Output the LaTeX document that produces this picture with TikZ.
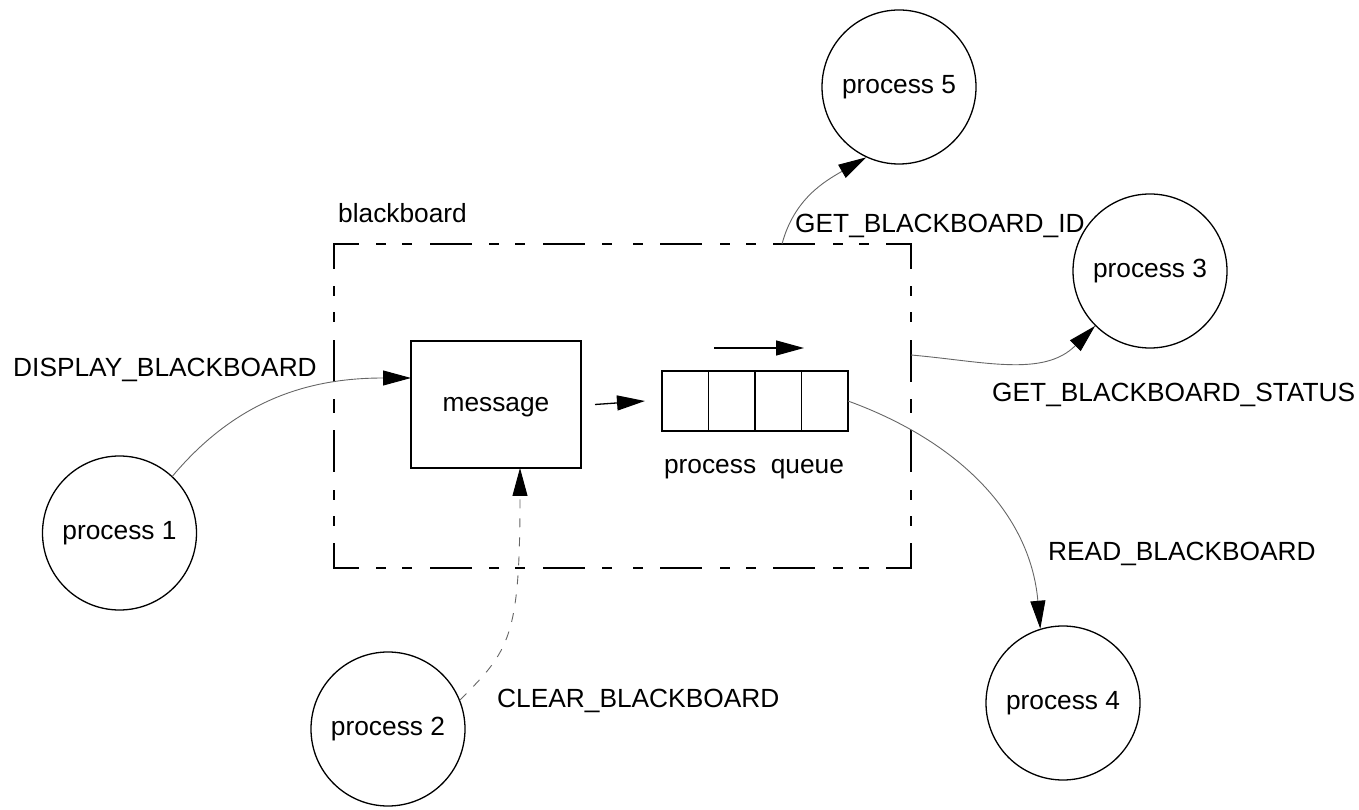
\documentclass[tikz,border=0pt]{standalone}
\usepackage{fontspec}
\setmainfont{Liberation Sans}
\usetikzlibrary{arrows.meta}
\begin{document}
\begin{tikzpicture}[x=1pt,y=1pt,
  every node/.style={font=\fontsize{26.3}{31}\selectfont},
  proc/.style={circle,draw,line width=1.3pt,minimum size=154pt,inner sep=0pt},
  lbl/.style={anchor=base west,inner sep=0pt},
  tip/.style={-{Triangle[length=28pt,width=15pt,color=black]}},
  link/.style={draw=black!60,line width=0.9pt,tip},
  frame/.style={line width=1.4pt,line cap=rect,
    dash pattern=on 40pt off 19pt on 8pt off 18pt on 8pt off 20pt,dash phase=16pt},
  boxline/.style={line width=1.3pt}
]
\useasboundingbox (0,0) rectangle (1359,809);

% blackboard frame (dash-dot outline, drawn from each corner towards the middle of each side)
\node[minimum width=577pt,minimum height=324pt,inner sep=0pt,outer sep=0pt] (bb) at (622.5,403) {};
\draw[frame] (bb.north west) -- (bb.north);
\draw[frame] (bb.north east) -- (bb.north);
\draw[frame] (bb.south west) -- (bb.south);
\draw[frame] (bb.south east) -- (bb.south);
\draw[frame] (bb.north west) -- (bb.west);
\draw[frame] (bb.south west) -- (bb.west);
\draw[frame] (bb.north east) -- (bb.east);
\draw[frame] (bb.south east) -- (bb.east);
\node[lbl] (lBb) at (338,586) {blackboard};

% message and process queue
\node[draw,boxline,minimum width=170pt,minimum height=127pt,inner sep=0pt,outer sep=0pt,text depth=0pt] (msg) at (496,404.5) {message};
\node[draw,boxline,minimum width=186pt,minimum height=60pt,inner sep=0pt,outer sep=0pt] (q) at (755,408) {};
\foreach \k in {1,2,3}
  \draw[boxline] ([xshift=\k*46.5pt]q.south west) -- ([xshift=\k*46.5pt]q.north west);
\node[anchor=base,inner sep=0pt] (qlbl) at (754,335) {process~~queue};
\draw[boxline,tip] ([xshift=14pt]msg.east) -- ([xshift=-17pt]q.west);
\draw[boxline,tip] ([shift={(-41pt,53pt)}]q.center) -- ([shift={(49pt,53pt)}]q.center);

% processes
\node[proc] (p1) at (119.5,276) {process 1};
\node[proc] (p2) at (388,80) {process 2};
\node[proc] (p3) at (1150,538) {process 3};
\node[proc] (p4) at (1063,106) {process 4};
\node[proc] (p5) at (899,722) {process 5};

% operation labels
\node[lbl] (lDisp) at (13,432) {DISPLAY\_BLACKBOARD};
\node[lbl] (lId) at (795,576) {GET\_BLACKBOARD\_ID};
\node[lbl] (lStat) at (992,407) {GET\_BLACKBOARD\_STATUS};
\node[lbl] (lRead) at (1048,249) {READ\_BLACKBOARD};
\node[lbl] (lClear) at (497,102) {CLEAR\_BLACKBOARD};

% connectors
\draw[link] (p1.47) to[out=50,in=180] ([yshift=-37pt]msg.north west);
\draw[link,dash pattern=on 9pt off 10pt] (p2.22) .. controls +(45:70) and +(0,-170) .. ([xshift=24pt]msg.south);
\draw[link] ([xshift=-129pt]bb.north east) to[out=75,in=210] (p5.245);
\draw[link] ([yshift=-111pt]bb.north east) to[out=-5,in=225] (p3.225);
\draw[link] (q.east) to[out=-20,in=95] (p4.107);
\end{tikzpicture}
\end{document}
